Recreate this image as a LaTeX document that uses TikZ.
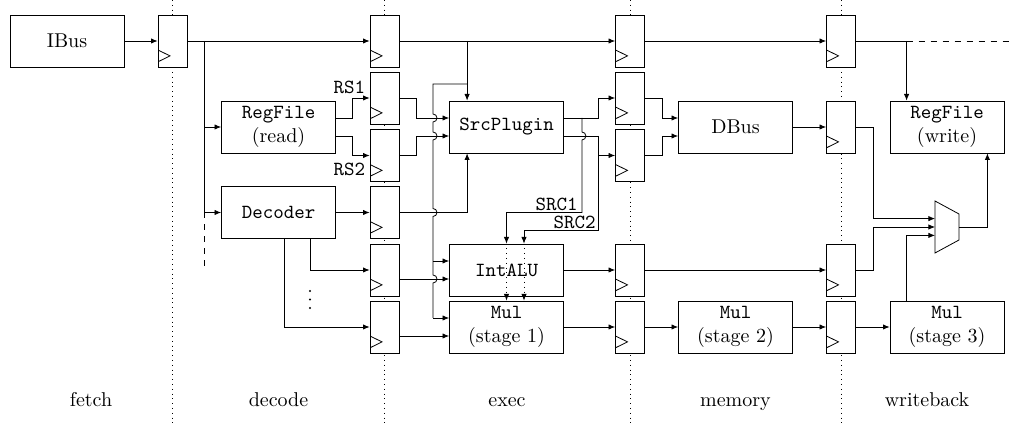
\documentclass[tikz,border=0pt]{standalone}
\usetikzlibrary{arrows.meta,calc}
\begin{document}
\begin{tikzpicture}[x=0.5pt,y=-0.5pt,
  box/.style={draw, fill=white, minimum width=57pt, minimum height=26pt, inner sep=0pt, align=center},
  reg/.style={draw, fill=white, minimum width=14.5pt, minimum height=26pt, inner sep=0pt,
    path picture={\draw ([yshift=2.6pt]path picture bounding box.south west) -- ++(6pt,2.95pt) -- ++(-6pt,2.95pt);}},
  arr/.style={-{Latex[length=3.3pt,width=2.7pt]}},
  stage/.style={dotted},
  lbl/.style={font=\ttfamily, inner sep=0pt},
  dotmark/.style={circle, fill, inner sep=0pt, minimum size=1.2pt}]
\useasboundingbox (0,0) rectangle (1013,426);
% stage dividers
\draw[stage] (172.5,0) -- (172.5,426);
\draw[stage] (384.5,0) -- (384.5,426);
\draw[stage] (630,0) -- (630,426);
\draw[stage] (841,0) -- (841,426);
% boxes
\node[box] (ibus) at (67,41) {IBus};
\node[box] (rfr) at (278.5,127) {\texttt{RegFile}\\(read)};
\node[box] (dec) at (278.5,212.5) {\texttt{Decoder}};
\node[box] (src) at (506.5,127) {\texttt{SrcPlugin}};
\node[box] (dbus) at (735.5,127) {DBus};
\node[box] (rfw) at (947,127) {\texttt{RegFile}\\(write)};
\node[box] (alu) at (506.5,270) {\texttt{IntALU}};
\node[box] (mul1) at (506.5,327) {\texttt{Mul}\\(stage 1)};
\node[box] (mul2) at (735.5,327) {\texttt{Mul}\\(stage 2)};
\node[box] (mul3) at (947,327) {\texttt{Mul}\\(stage 3)};
% registers
\node[reg] (rF) at (172.5,41) {};
\node[reg] (rE0) at (384.5,41) {};
\node[reg] (rE1) at (384.5,98) {};
\node[reg] (rE2) at (384.5,155.5) {};
\node[reg] (rE3) at (384.5,212.5) {};
\node[reg] (rE4) at (384.5,270) {};
\node[reg] (rE5) at (384.5,327) {};
\node[reg] (rM0) at (630,41) {};
\node[reg] (rM1) at (630,98) {};
\node[reg] (rM2) at (630,155.5) {};
\node[reg] (rM4) at (630,270) {};
\node[reg] (rM5) at (630,327) {};
\node[reg] (rW0) at (841,41) {};
\node[reg] (rW1) at (841,127) {};
\node[reg] (rW4) at (841,270) {};
\node[reg] (rW5) at (841,327) {};
% mux
\coordinate (mux) at (947,227);
\draw ($(mux)+(-6pt,13pt)$) -- ($(mux)+(6pt,6.5pt)$) -- ($(mux)+(6pt,-6.5pt)$) -- ($(mux)+(-6pt,-13pt)$) -- cycle;
\coordinate (muxin1) at ($(mux)+(-6pt,4.2pt)$);
\coordinate (muxin2) at ($(mux)+(-6pt,0pt)$);
\coordinate (muxin3) at ($(mux)+(-6pt,-4.2pt)$);
\coordinate (muxout) at ($(mux)+(6pt,0pt)$);
% port coordinates
\coordinate (rfrout1) at ([yshift=4.5pt]rfr.east);
\coordinate (rfrout2) at ([yshift=-4.5pt]rfr.east);
\coordinate (srcin1) at ([yshift=4.5pt]src.west);
\coordinate (srcin2) at ([yshift=-4.5pt]src.west);
\coordinate (srcout1) at ([yshift=4.5pt]src.east);
\coordinate (srcout2) at ([yshift=-4.5pt]src.east);
\coordinate (aluin1) at ([yshift=4.5pt]alu.west);
\coordinate (aluin2) at ([yshift=-4.5pt]alu.west);
\coordinate (mul1in1) at ([yshift=4.5pt]mul1.west);
\coordinate (mul1in2) at ([yshift=-4.5pt]mul1.west);
\coordinate (dbin1) at ([yshift=4.5pt]dbus.west);
\coordinate (dbin2) at ([yshift=-4.5pt]dbus.west);
\coordinate (b1) at ($(rF.east)+(8.5pt,0)$);
\coordinate (b2) at ($(src.north west |- rE0.east)+(9pt,0)$);
\coordinate (b3) at ($(rfw.north west |- rW0.east)+(8.5pt,0)$);
\coordinate (v1) at (433,84);
\coordinate (s1) at ($(srcout1)+(9pt,0)$);
\coordinate (s2) at ($(srcout2)+(17pt,0)$);
\coordinate (a1) at (alu.north);
\coordinate (a2) at ($(alu.north)+(8.75pt,0)$);
\coordinate (tail) at (1013,41);
% fetch
\draw[arr] (ibus.east) -- (rF.west);
\draw[arr] (rF.east) -- (rE0.west);
\draw (b1) -- (b1 |- dec.west);
\draw[dashed] (b1 |- dec.west) -- ($(b1 |- dec.west)+(0,-27.5pt)$);
\draw[arr] (b1 |- rfr.west) -- (rfr.west);
\draw[arr] (b1 |- dec.west) -- (dec.west);
% decode
\draw[arr] (rfrout1) -- ++(8pt,0) |- (rE1.west);
\draw[arr] (rfrout2) -- ++(8pt,0) |- (rE2.west);
\node[lbl, anchor=east] (rs1) at ($(rE1.west)+(-2pt,5.5pt)$) {RS1};
\node[lbl, anchor=east] (rs2) at ($(rE2.west)+(-2pt,-6.75pt)$) {RS2};
\draw[arr] (dec.east) -- (rE3.west);
\draw[arr] ($(dec.south)+(15.75pt,0)$) |- (rE4.west);
\draw[arr] ($(dec.south)+(2.75pt,0)$) |- (rE5.west);
\node[dotmark] (d1) at (310,291) {};
\node[dotmark] (d2) at (310,299.5) {};
\node[dotmark] (d3) at (310,308) {};
% exec
\draw[arr] (rE0.east) -- (rM0.west);
\draw[arr] (b2) -- (b2 |- src.north);
\draw (b2 |- v1) -- (v1)
  -- ($(v1 |- srcin1)+(0,2pt)$) arc[start angle=90,end angle=-90,radius=2pt]
  -- ($(v1 |- srcin2)+(0,2pt)$) arc[start angle=90,end angle=-90,radius=2pt]
  -- ($(v1 |- rE3.east)+(0,2pt)$) arc[start angle=90,end angle=-90,radius=2pt]
  -- ($(v1 |- aluin2)+(0,2pt)$) arc[start angle=90,end angle=-90,radius=2pt]
  -- (v1 |- mul1in1);
\draw[arr] (v1 |- aluin1) -- (aluin1);
\draw[arr] (v1 |- mul1in1) -- (mul1in1);
\draw[arr] (rE1.east) -- ++(8.5pt,0) |- (srcin1);
\draw[arr] (rE2.east) -- ++(8.5pt,0) |- (srcin2);
\draw[arr] (rE3.east) -| (b2 |- src.south);
\draw[arr] (rE4.east |- aluin2) -- (aluin2);
\draw[arr] (rE5.east |- mul1in2) -- (mul1in2);
\draw[arr] (srcout1) -- ++(17pt,0) |- (rM1.west);
\draw[arr] (srcout2) -- ++(17pt,0) |- (rM2.west);
\draw[arr] (s1) -- ($(s1 |- srcout2)+(0,2pt)$) arc[start angle=90,end angle=-90,radius=2pt]
  -- (s1 |- rE3.east) -| (a1);
\draw[arr] (s2) -- ($(s2 |- rE3.east)+(0,-8.75pt)$) -| (a2);
\node[lbl, anchor=south east] (src1l) at ($(s1 |- rE3.east)+(-2pt,0.5pt)$) {SRC1};
\node[lbl, anchor=south east] (src2l) at ($(s2 |- rE3.east)+(-1pt,-8.25pt)$) {SRC2};
\draw[arr, dotted] (a1) -- (a1 |- mul1.north);
\draw[arr, dotted] (a2) -- (a2 |- mul1.north);
\draw[arr] (alu.east) -- (rM4.west);
\draw[arr] (mul1.east) -- (rM5.west);
% memory
\draw[arr] (rM0.east) -- (rW0.west);
\draw[arr] (rM1.east) -- ++(8.5pt,0) |- (dbin1);
\draw[arr] (rM2.east) -- ++(8.5pt,0) |- (dbin2);
\draw[arr] (dbus.east) -- (rW1.west);
\draw[arr] (rM4.east) -- (rW4.west);
\draw[arr] (rM5.east) -- (mul2.west);
\draw[arr] (mul2.east) -- (rW5.west);
% writeback
\draw (rW0.east) -- (b3);
\draw[dashed] (b3) -- (tail);
\draw[arr] (b3) -- (b3 |- rfw.north);
\draw[arr] (rW5.east) -- (mul3.west);
\draw[arr] (rW1.east) -- ++(8.5pt,0) |- (muxin1);
\draw[arr] (rW4.east) -- ++(8.5pt,0) |- (muxin2);
\draw[arr] (b3 |- mul3.north) |- (muxin3);
\draw[arr] (muxout) -| ($(rfw.south east)+(-8.5pt,0)$);
% stage labels
\node[anchor=base] (lf) at (91,407) {fetch};
\node[anchor=base] (ld) at (278.5,407) {decode};
\node[anchor=base] (le) at (507,407) {exec};
\node[anchor=base] (lm) at (735.5,407) {memory};
\node[anchor=base] (lw) at (927,407) {writeback};
\end{tikzpicture}
\end{document}
